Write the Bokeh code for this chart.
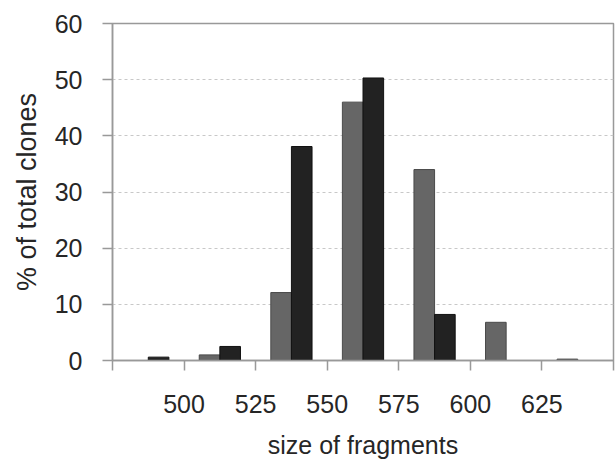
from bokeh.plotting import figure
from bokeh.models import FixedTicker, ColumnDataSource
from bokeh.embed import file_html
from bokeh.resources import INLINE

# data
bin_centers = [487.5, 512.5, 537.5, 562.5, 587.5, 612.5, 637.5]
grey_values = [0.0, 1.0, 12.1, 46.0, 34.0, 6.8, 0.25]
black_values = [0.6, 2.5, 38.1, 50.3, 8.2, 0.0, 0.0]
x_ticks = [475, 500, 525, 550, 575, 600, 625, 650]
y_ticks = [0, 10, 20, 30, 40, 50, 60]

bar_w = 7.2
font = "Liberation Sans"
text_col = "#262626"
axis_col = "#999999"

p = figure(width=615, height=461, x_range=(475, 650), y_range=(0, 60),
           output_backend="svg", toolbar_location=None,
           min_border_left=112, min_border_right=2, min_border_top=23,
           min_border_bottom=101)

src = ColumnDataSource(dict(
    xg=[c - bar_w / 2 for c in bin_centers],
    xb=[c + bar_w / 2 for c in bin_centers],
    g=grey_values, b=black_values))

p.vbar(x="xg", top="g", width=bar_w, bottom=0, source=src,
       fill_color="#666666", line_color="#4a4a4a", line_width=1)
p.vbar(x="xb", top="b", width=bar_w, bottom=0, source=src,
       fill_color="#222222", line_color="#111111", line_width=1)

p.outline_line_color = axis_col
p.outline_line_width = 1.5
p.xgrid.visible = False
p.ygrid.ticker = FixedTicker(ticks=y_ticks[1:-1])
p.ygrid.grid_line_color = "#c8c8c8"
p.ygrid.grid_line_dash = "3 3"
p.ygrid.grid_line_width = 1

xa = p.xaxis[0]
xa.ticker = FixedTicker(ticks=x_ticks)
xa.major_label_overrides = {475: "", 650: ""}
xa.axis_label = "size of fragments"
ya = p.yaxis[0]
ya.ticker = FixedTicker(ticks=y_ticks)
ya.axis_label = "% of total clones"

for ax in (xa, ya):
    ax.axis_line_color = axis_col
    ax.axis_line_width = 1.5
    ax.major_tick_line_color = axis_col
    ax.major_tick_line_width = 1.5
    ax.major_tick_out = 10
    ax.major_tick_in = 0
    ax.minor_tick_line_color = None
    ax.major_label_text_font = font
    ax.major_label_text_font_size = "25px"
    ax.major_label_text_color = text_col
    ax.axis_label_text_font = font
    ax.axis_label_text_font_style = "normal"
    ax.axis_label_text_color = text_col

xa.axis_label_text_font_size = "25px"
ya.axis_label_text_font_size = "27px"
xa.major_label_standoff = 24
xa.axis_label_standoff = 15
ya.major_label_standoff = 20
ya.axis_label_standoff = 10
ya.major_label_orientation = "horizontal"

open("out.html", "w").write(file_html(p, INLINE))
